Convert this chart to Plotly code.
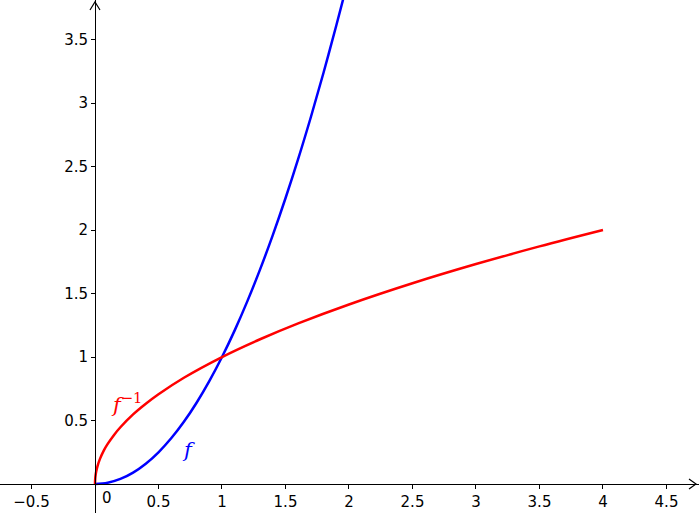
import plotly.graph_objects as go

# f(x) = x^2 samples (blue)
f_x = [0, 0.1, 0.2, 0.3, 0.4, 0.5, 0.6, 0.7, 0.8, 0.9, 1.0, 1.1, 1.2, 1.3, 1.4, 1.5, 1.6, 1.7, 1.8, 1.9, 1.96]
f_y = [0, 0.01, 0.04, 0.09, 0.16, 0.25, 0.36, 0.49, 0.64, 0.81, 1.0, 1.21, 1.44, 1.69, 1.96, 2.25, 2.56, 2.89, 3.24, 3.61, 3.84]

# f^-1(x) = sqrt(x) samples (red)
g_x = [0, 0.002, 0.005, 0.01, 0.02, 0.04, 0.07, 0.1, 0.15, 0.2, 0.3, 0.4, 0.5, 0.7, 1.0, 1.3, 1.6, 2.0, 2.5, 3.0, 3.5, 4.0]
g_y = [0, 0.045, 0.071, 0.1, 0.141, 0.2, 0.265, 0.316, 0.387, 0.447, 0.548, 0.632, 0.707, 0.837, 1.0, 1.140, 1.265, 1.414, 1.581, 1.732, 1.871, 2.0]

x_ticks = [-0.5, 0.5, 1, 1.5, 2, 2.5, 3, 3.5, 4, 4.5]
x_labels = ["−0.5", "0.5", "1", "1.5", "2", "2.5", "3", "3.5", "4", "4.5"]
y_ticks = [0.5, 1, 1.5, 2, 2.5, 3, 3.5]
y_labels = ["0.5", "1", "1.5", "2", "2.5", "3", "3.5"]

x_range = [-0.748, 4.756]
y_range = [-0.228, 3.811]

fig = go.Figure()
fig.add_trace(go.Scatter(x=f_x, y=f_y, mode="lines", line=dict(color="#0000ff", width=2.5, shape="spline"),
                         hoverinfo="skip"))
fig.add_trace(go.Scatter(x=g_x, y=g_y, mode="lines", line=dict(color="#ff0000", width=2.5, shape="spline"),
                         hoverinfo="skip"))

xpos = (0 - y_range[0]) / (y_range[1] - y_range[0])
ypos = (0 - x_range[0]) / (x_range[1] - x_range[0])

tickfont = dict(family="DejaVu Sans", size=15, color="black")

fig.update_layout(
    width=699, height=513,
    margin=dict(l=0, r=0, t=0, b=0, pad=0, autoexpand=False),
    paper_bgcolor="white", plot_bgcolor="white",
    showlegend=False,
    xaxis=dict(range=x_range, showgrid=False, zeroline=False, showline=True, linecolor="black", linewidth=1,
               anchor="free", position=xpos, ticks="outside", ticklen=4, tickcolor="black",
               tickvals=x_ticks, ticktext=x_labels, tickfont=tickfont, fixedrange=True, automargin=False),
    yaxis=dict(range=y_range, showgrid=False, zeroline=False, showline=True, linecolor="black", linewidth=1,
               anchor="free", position=ypos, ticks="outside", ticklen=4, tickcolor="black",
               tickvals=y_ticks, ticktext=y_labels, tickfont=tickfont, fixedrange=True, automargin=False),
)

# origin label
fig.add_annotation(x=0, y=0, text="0", showarrow=False, xanchor="left", yanchor="top",
                   xshift=5, yshift=-3, font=tickfont)

# curve labels
fig.add_annotation(x=0.74, y=0.27, text="<i>f</i>", showarrow=False,
                   font=dict(family="DejaVu Serif", size=21, color="#0000ff"))
fig.add_annotation(x=0.25, y=0.64, text="<i>f</i><sup>−1</sup>", showarrow=False,
                   font=dict(family="DejaVu Serif", size=21, color="#ff0000"))

# axis arrowheads (open chevrons)
fig.add_shape(type="path", xref="paper", yref="y", xsizemode="pixel", ysizemode="pixel",
              xanchor=1, yanchor=0, path="M -10 5 L -3 0 L -10 -5",
              line=dict(color="black", width=1.2))
fig.add_shape(type="path", xref="x", yref="paper", xsizemode="pixel", ysizemode="pixel",
              xanchor=0, yanchor=1, path="M -5 -10 L 0 -2 L 5 -10",
              line=dict(color="black", width=1.2))

fig.write_html("out.html", config={"displayModeBar": False},
               post_script="document.body.style.margin='0';document.body.style.overflow='hidden';")
